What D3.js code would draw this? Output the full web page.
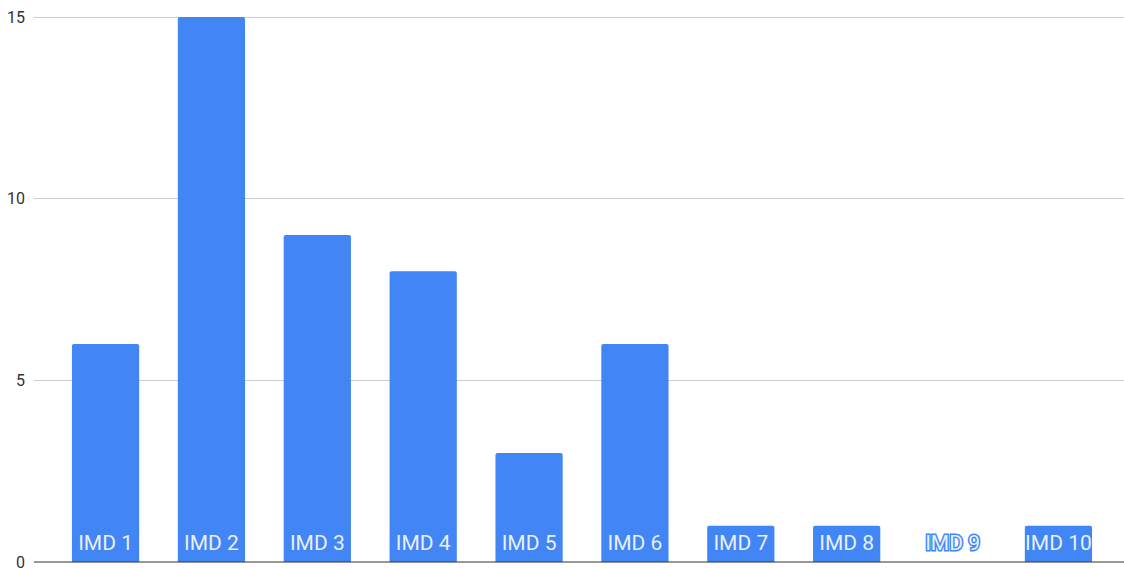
<!DOCTYPE html>
<html><head><meta charset="utf-8">
<script src="https://cdn.jsdelivr.net/npm/d3@7"></script>
<style>body{margin:0;background:#fff}svg{display:block}</style>
</head><body>
<svg id="c" width="1124" height="568"></svg>
<script>
const categories = ["IMD 1","IMD 2","IMD 3","IMD 4","IMD 5","IMD 6","IMD 7","IMD 8","IMD 9","IMD 10"];
const values = [6,15,9,8,3,6,1,1,0,1];
const yTicks = [0,5,10,15];

(function(){
const svg = d3.select("#c");
const mLeft = 34, mRight = 1124, mTop = 17, mBottom = 562;
const y = d3.scaleLinear().domain([0,15]).range([mBottom, mTop]);
const x = d3.scaleBand().domain(categories).range([37, 1127]).paddingInner(0.365).paddingOuter(0.33);

svg.append("g").selectAll("line").data(yTicks.filter(d=>d>0)).join("line")
  .attr("x1", mLeft).attr("x2", mRight).attr("y1", d=>y(d)).attr("y2", d=>y(d))
  .attr("stroke", "#cccccc").attr("stroke-width", 1).attr("shape-rendering","crispEdges");

svg.append("g").selectAll("text").data(yTicks).join("text")
  .attr("x", 25).attr("y", d=>y(d)).attr("dy","0.36em").attr("text-anchor","end")
  .attr("font-family","Roboto, Arial, sans-serif").attr("font-size",16).attr("fill","#333")
  .text(d=>d);

const r = 2;
svg.append("g").selectAll("path").data(categories.map((c,i)=>({c,v:values[i]})).filter(d=>d.v>0)).join("path")
  .attr("fill","#4285f4")
  .attr("d", d=>{
    const x0 = x(d.c), x1 = x0 + x.bandwidth(), y0 = y(d.v), yb = y(0);
    return `M${x0},${yb}V${y0+r}Q${x0},${y0} ${x0+r},${y0}H${x1-r}Q${x1},${y0} ${x1},${y0+r}V${yb}Z`;
  });

svg.append("line").attr("x1", mLeft).attr("x2", mRight).attr("y1", y(0)).attr("y2", y(0))
  .attr("stroke","#333").attr("stroke-width",1.2);

svg.append("g").selectAll("text").data(categories.map((c,i)=>({c,v:values[i]}))).join("text")
  .attr("x", d=>x(d.c)+x.bandwidth()/2).attr("y", 549.5).attr("text-anchor","middle")
  .attr("font-family","Roboto, Arial, sans-serif").attr("font-size",21)
  .attr("fill","#e8f0fe")
  .attr("stroke", d=>d.v===0 ? "#4285f4" : "none").attr("stroke-width", d=>d.v===0 ? 3 : 0)
  .attr("paint-order","stroke")
  .text(d=>d.c);
})();
</script>
</body></html>
